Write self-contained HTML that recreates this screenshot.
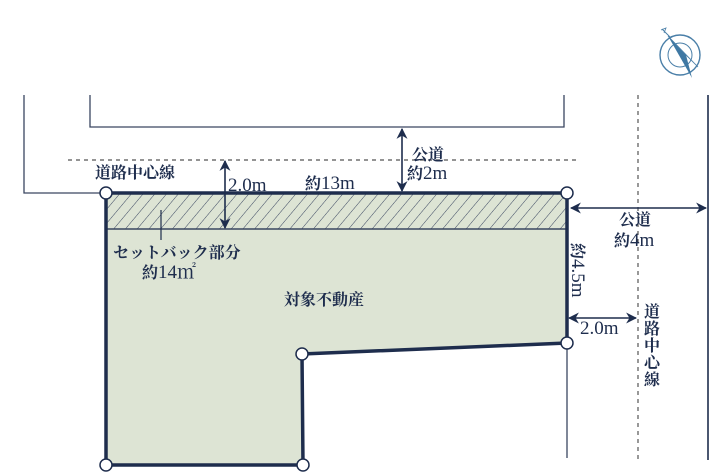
<!DOCTYPE html>
<html><head><meta charset="utf-8"><style>
html,body{margin:0;padding:0;background:#fff;width:717px;height:476px;overflow:hidden}
text{font-family:"Liberation Serif","Noto Serif CJK SC","Noto Sans CJK JP",serif;fill:#1e2d4d;font-weight:bold}
.l{font-size:19px;font-weight:normal}
</style></head><body>
<svg width="717" height="476" viewBox="0 0 717 476" xmlns="http://www.w3.org/2000/svg">
<defs>
<pattern id="h" width="9" height="9" patternUnits="userSpaceOnUse" patternTransform="rotate(40)">
<rect width="9" height="9" fill="#dde4d4"/><line x1="0" y1="0" x2="0" y2="9" stroke="#3a4660" stroke-width="1"/>
</pattern>
<marker id="a" viewBox="0 0 10 10" refX="9" refY="5" markerWidth="11" markerHeight="11" markerUnits="userSpaceOnUse" orient="auto-start-reverse"><path d="M0,0 L10,5 L0,10 L3,5 z" fill="#1e2d4d"/></marker>
</defs>
<g stroke="#3a4660" stroke-width="1.3" fill="none">
<polyline points="24,95 24,193 106,193"/>
<polyline points="90,95 90,127 564,127 564,95"/>
<line x1="567" y1="343" x2="567" y2="458"/>
<line x1="708" y1="95" x2="708" y2="460" stroke="#1e2d4d" stroke-width="1.6"/>
</g>
<g stroke="#555" stroke-width="1.2" stroke-dasharray="4,4">
<line x1="68" y1="160" x2="578" y2="160"/>
<line x1="638" y1="95" x2="638" y2="460"/>
</g>
<polygon points="106,193 567,193 567,343 302,354 303,465 106,465" fill="#dde4d4"/>
<rect x="106" y="193" width="461" height="36" fill="url(#h)"/>
<line x1="106" y1="229" x2="567" y2="229" stroke="#3a4660" stroke-width="1.5"/>
<polygon points="106,193 567,193 567,343 302,354 303,465 106,465" fill="none" stroke="#1e2d4d" stroke-width="3.5" stroke-linejoin="round"/>
<g fill="#fff" stroke="#1e2d4d" stroke-width="1.5">
<circle cx="106" cy="193" r="6"/><circle cx="567" cy="193" r="6"/><circle cx="567" cy="343" r="6"/>
<circle cx="302" cy="354" r="6"/><circle cx="303" cy="465" r="6"/><circle cx="106" cy="465" r="6"/>
</g>
<line x1="161" y1="210" x2="161" y2="240" stroke="#1e2d4d" stroke-width="1.2"/>
<g stroke="#1e2d4d" stroke-width="1.6" marker-start="url(#a)" marker-end="url(#a)">
<line x1="225" y1="161" x2="225" y2="228"/>
<line x1="402" y1="129" x2="402" y2="191"/>
<line x1="571" y1="208" x2="706" y2="208"/>
<line x1="569" y1="318" x2="636" y2="318"/>
</g>
<g font-size="16">
<text x="95" y="178">道路中心線</text>
<text x="228" y="191" class="l">2.0m</text>
<text x="305" y="189">約<tspan class="l">13m</tspan></text>
<text x="412" y="160">公道</text>
<text x="407" y="179">約<tspan class="l">2m</tspan></text>
<text x="113" y="258">セットバック部分</text>
<text x="142" y="278">約<tspan class="l">14㎡</tspan></text>
<text x="284" y="305">対象不動産</text>
<text x="619" y="225">公道</text>
<text x="614" y="246">約<tspan class="l">4m</tspan></text>
<text x="580" y="334" class="l">2.0m</text>
<text transform="translate(572,243) rotate(90)">約<tspan class="l">4.5m</tspan></text>
<text x="644" y="317">道</text><text x="644" y="334">路</text><text x="644" y="351">中</text><text x="644" y="368">心</text><text x="644" y="385">線</text>
</g>
<g transform="translate(680,55)">
<circle r="20" fill="none" stroke="#4a7fa8" stroke-width="1.4"/>
<circle r="12" fill="none" stroke="#4a7fa8" stroke-width="1"/>
<polygon points="-12,-19 12,23 6,0" fill="#3f78a3"/>
<polygon points="-12,-19 18,12 6,0" fill="#fff" stroke="#4a7fa8" stroke-width="0.8"/>
<line x1="-18" y1="-26" x2="-10" y2="-18" stroke="#4a7fa8" stroke-width="1"/>
<path d="M-19,-25 l5,-2 l-2,5" fill="none" stroke="#4a7fa8" stroke-width="0.8"/>
</g>
</svg>
</body></html>
